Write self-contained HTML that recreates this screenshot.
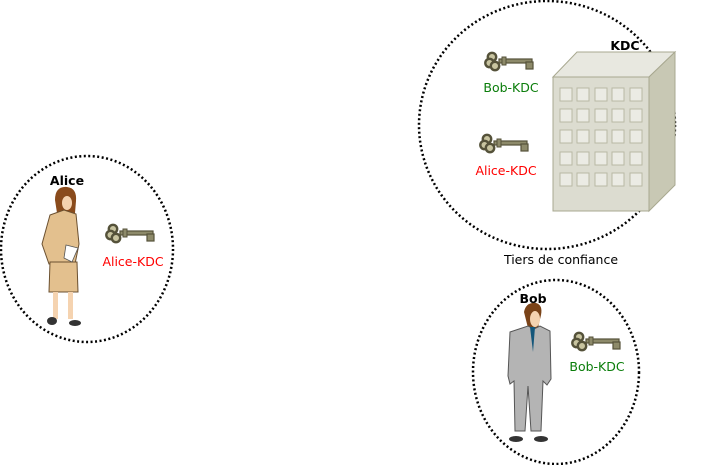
<!DOCTYPE html>
<html><head><meta charset="utf-8"><style>
html,body{margin:0;padding:0;background:#fff;}
svg{display:block;font-family:"DejaVu Sans","Liberation Sans",sans-serif;}
</style></head><body>
<svg width="704" height="465" viewBox="0 0 704 465">
<defs>
<g id="key">
<circle cx="7" cy="5" r="4.2" fill="#c8c4a0" stroke="#55523a" stroke-width="2.4"/>
<circle cx="4.5" cy="11" r="4.2" fill="#c8c4a0" stroke="#55523a" stroke-width="2.4"/>
<circle cx="10" cy="14" r="4.2" fill="#c8c4a0" stroke="#55523a" stroke-width="2.4"/>
<rect x="14" y="7" width="33" height="4" fill="#8d8a6a" stroke="#55523a" stroke-width="1.2"/>
<rect x="17" y="5" width="4" height="8" fill="#8d8a6a" stroke="#55523a" stroke-width="1"/>
<rect x="41" y="10" width="7" height="7" fill="#8d8a6a" stroke="#55523a" stroke-width="1.2"/>
</g>
</defs>
<ellipse cx="87" cy="249" rx="86" ry="93" fill="none" stroke="#000" stroke-width="2.5" stroke-dasharray="2 2.5"/>
<ellipse cx="547" cy="125" rx="128" ry="124" fill="none" stroke="#000" stroke-width="2.5" stroke-dasharray="2 2.5"/>
<ellipse cx="556" cy="372" rx="83" ry="92" fill="none" stroke="#000" stroke-width="2.5" stroke-dasharray="2 2.5"/>

<g>
<polygon points="553,77 577,52 675,52 649,77" fill="#e8e8e0" stroke="#a8a890" stroke-width="1"/>
<polygon points="649,77 675,52 675,185 649,211" fill="#c8c8b4" stroke="#a8a890" stroke-width="1"/>
<rect x="553" y="77" width="96" height="134" fill="#dcdcd0" stroke="#a8a890" stroke-width="1"/>
<g fill="#ebebe4" stroke="#b8b8a4" stroke-width="1">
<rect x="560" y="88" width="12" height="13"/><rect x="577" y="88" width="12" height="13"/><rect x="595" y="88" width="12" height="13"/><rect x="612" y="88" width="12" height="13"/><rect x="630" y="88" width="12" height="13"/>
<rect x="560" y="109" width="12" height="13"/><rect x="577" y="109" width="12" height="13"/><rect x="595" y="109" width="12" height="13"/><rect x="612" y="109" width="12" height="13"/><rect x="630" y="109" width="12" height="13"/>
<rect x="560" y="130" width="12" height="13"/><rect x="577" y="130" width="12" height="13"/><rect x="595" y="130" width="12" height="13"/><rect x="612" y="130" width="12" height="13"/><rect x="630" y="130" width="12" height="13"/>
<rect x="560" y="152" width="12" height="13"/><rect x="577" y="152" width="12" height="13"/><rect x="595" y="152" width="12" height="13"/><rect x="612" y="152" width="12" height="13"/><rect x="630" y="152" width="12" height="13"/>
<rect x="560" y="173" width="12" height="13"/><rect x="577" y="173" width="12" height="13"/><rect x="595" y="173" width="12" height="13"/><rect x="612" y="173" width="12" height="13"/><rect x="630" y="173" width="12" height="13"/>
</g>
</g>

<use href="#key" x="485" y="52"/>
<use href="#key" x="480" y="134"/>
<use href="#key" x="106" y="224"/>
<use href="#key" x="572" y="332"/>

<g>
<path d="M55,200 q0,-14 12,-13 q10,1 9,14 l-1,12 h-18 z" fill="#8a4b1c"/>
<ellipse cx="67" cy="203" rx="5" ry="7" fill="#f5d3b0"/>
<path d="M50,215 l14,-5 l12,4 l3,30 l-4,20 h-26 l-7,-20 z" fill="#e3c08e" stroke="#6b5030" stroke-width="1"/>
<path d="M50,262 h27 l1,30 h-29 z" fill="#e3c08e" stroke="#6b5030" stroke-width="1"/>
<rect x="53" y="292" width="5" height="27" fill="#f5d3b0"/><rect x="68" y="292" width="5" height="27" fill="#f5d3b0"/>
<ellipse cx="52" cy="321" rx="5" ry="4" fill="#333"/><ellipse cx="75" cy="323" rx="6" ry="3" fill="#333"/>
<polygon points="66,245 78,248 72,262 64,258" fill="#fff" stroke="#555" stroke-width="0.8"/>
</g>

<g>
<path d="M524,312 q2,-10 12,-9 q7,2 5,12 l-3,13 h-10 z" fill="#7a4318"/>
<ellipse cx="535" cy="319" rx="5" ry="8" fill="#f5d3b0"/>
<path d="M510,332 l18,-6 l6,3 l6,-3 l10,5 l1,48 l-4,6 l-4,-4 l-2,50 h-10 l-3,-45 l-3,45 h-10 l-1,-50 l-4,3 l-2,-8 z" fill="#b4b4b4" stroke="#555" stroke-width="1"/>
<polygon points="530,327 535,327 533,352" fill="#13567a"/>
<ellipse cx="516" cy="439" rx="7" ry="3" fill="#333"/><ellipse cx="541" cy="439" rx="7" ry="3" fill="#333"/>
</g>

<g font-size="12.5">
<text x="625" y="50" font-weight="bold" text-anchor="middle" fill="#000">KDC</text>
<text x="511" y="92" text-anchor="middle" fill="#0a7d0a">Bob-KDC</text>
<text x="506" y="175" text-anchor="middle" fill="#ff0000">Alice-KDC</text>
<text x="561" y="264" text-anchor="middle" fill="#000">Tiers de confiance</text>
<text x="67" y="185" font-weight="bold" text-anchor="middle" fill="#000">Alice</text>
<text x="133" y="266" text-anchor="middle" fill="#ff0000">Alice-KDC</text>
<text x="533" y="303" font-weight="bold" text-anchor="middle" fill="#000">Bob</text>
<text x="597" y="371" text-anchor="middle" fill="#0a7d0a">Bob-KDC</text>
</g>
</svg>
</body></html>
